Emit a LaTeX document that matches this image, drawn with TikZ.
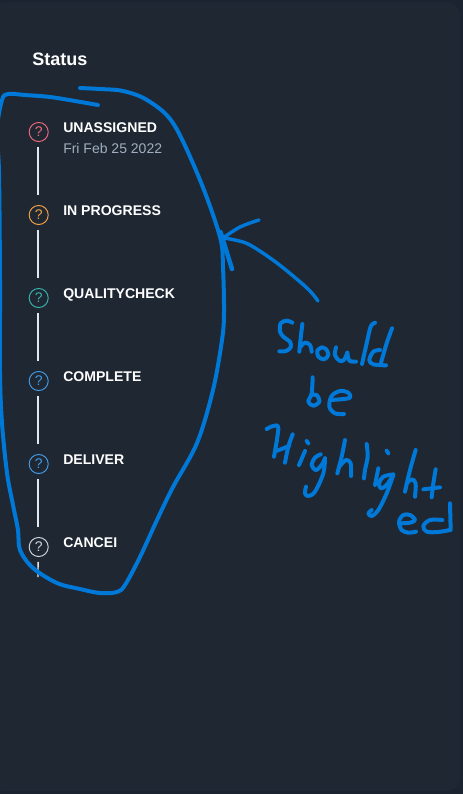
\documentclass[tikz,border=0pt]{standalone}
\usepackage{fontspec}
\setmainfont{Liberation Sans}
\definecolor{outerbg}{HTML}{1B2330}
\definecolor{panelbg}{HTML}{1F2733}
\definecolor{inkblue}{HTML}{0078D7}
\definecolor{linecol}{HTML}{E2E8F0}
\definecolor{subcol}{HTML}{A0AEC0}
\definecolor{cpink}{HTML}{E8697A}
\definecolor{corange}{HTML}{F0A044}
\definecolor{cteal}{HTML}{38B2AC}
\definecolor{cblue}{HTML}{4299E1}
\definecolor{cgray}{HTML}{CBD5E0}
\tikzset{
  ink/.style={draw=inkblue,line width=3pt,line cap=round,line join=round},
  inkthin/.style={draw=inkblue,line width=2.6pt,line cap=round,line join=round},
  stat/.style={circle,draw=#1,text=#1,line width=0.75pt,minimum size=14.3pt,inner sep=0pt,font=\fontsize{10.5pt}{10.5pt}\selectfont},
  lab/.style={anchor=base west,inner sep=0pt,text=white,font=\fontsize{10.55pt}{12pt}\selectfont\bfseries},
  sublab/.style={anchor=base west,inner sep=0pt,text=subcol,font=\fontsize{10.5pt}{12pt}\selectfont},
  tl/.style={draw=linecol,line width=1.1pt,shorten <=3.7pt,shorten >=7.5pt},
}
\newcommand{\sk}[2][ink]{\draw[#1] plot[smooth,tension=0.55] coordinates {#2};}
\begin{document}
\begin{tikzpicture}[x=0.75pt,y=-0.75pt]
\useasboundingbox (0,0) rectangle (463,794);
\fill[outerbg] (0,0) rectangle (463,794);
\fill[panelbg,rounded corners=10pt] (-8,2) rectangle (460,791);

\node[anchor=base west,inner sep=0pt,text=white,font=\fontsize{13.5pt}{15pt}\selectfont\bfseries] (title) at (32,65.5) {Status};

\node[stat=cpink] (s1) at (38.7,132) {?};
\node[stat=corange] (s2) at (38.7,215) {?};
\node[stat=cteal] (s3) at (38.7,298) {?};
\node[stat=cblue] (s4) at (38.7,381) {?};
\node[stat=cblue] (s5) at (38.7,464) {?};
\node[stat=cgray] (s6) at (38.7,547) {?};
\coordinate (tailend) at (38,577);

\draw[tl] ([xshift=-0.5pt]s1.south) -- ([xshift=-0.5pt]s2.north);
\draw[tl] ([xshift=-0.5pt]s2.south) -- ([xshift=-0.5pt]s3.north);
\draw[tl] ([xshift=-0.5pt]s3.south) -- ([xshift=-0.5pt]s4.north);
\draw[tl] ([xshift=-0.5pt]s4.south) -- ([xshift=-0.5pt]s5.north);
\draw[tl] ([xshift=-0.5pt]s5.south) -- ([xshift=-0.5pt]s6.north);
\draw[tl,shorten >=0pt] ([xshift=-0.5pt]s6.south) -- (tailend);

\node[lab] (l1) at (63,132) {UNASSIGNED};
\node[sublab] (d1) at (63,153) {Fri Feb 25 2022};
\node[lab] (l2) at (63,215) {IN PROGRESS};
\node[lab] (l3) at (63,298) {QUALITYCHECK};
\node[lab] (l4) at (63,381) {COMPLETE};
\node[lab] (l5) at (63,464) {DELIVER};
\node[lab] (l6) at (63,547) {CANCEI};

% big hand-drawn loop
\sk{(98,105)(75,101)(50,97)(25,95)(8,94)(2,100)(-3,130)(-1,173)(0,280)(0,373)(2,423)(7,473)(13,505)(18,530)(20,550)(33,568)(57,583)(80,589)(100,593)(117,592)(125,585)(140,557)(157,520)(173,487)(197,443)(213,390)(222,340)(224,313)(223,267)(220,237)(200,180)(173,123)(147,100)(123,91)(100,89)(80,88)}

% arrow
\sk[inkthin]{(318,301)(307,288)(277,263)(250,245)(235,240)(223,238)}
\sk[inkthin]{(259,220)(240,227)(223,238)}
\draw[ink,line width=3.4pt] (220.5,232) -- (232,269);

% handwriting: Should / be
\begin{scope}[shift={(260,310)},x=0.25pt,y=-0.25pt]
\sk{(97,38)(80,32)(62,40)(60,65)(72,82)(90,95)(92,112)(78,123)(58,124)}
\sk{(127,42)(122,85)(118,125)}
\sk{(122,110)(135,98)(150,105)(155,125)}
\sk{(185,112)(172,122)(175,140)(192,148)(205,135)(198,117)(185,112)}
\sk{(228,112)(225,135)(238,152)(252,150)(262,128)}
\sk{(262,128)(268,152)(288,155)}
\sk{(345,38)(332,50)(320,100)(306,162)}
\sk{(360,120)(340,125)(328,150)(340,163)(378,166)}
\sk{(396,55)(380,100)(362,162)}
\sk{(158,202)(155,250)(145,275)(160,287)(178,275)(170,255)(155,255)}
\sk{(210,270)(240,268)(270,263)(265,248)(240,243)(215,258)(208,290)(225,310)(252,312)}
\end{scope}

% handwriting: High
\begin{scope}[shift={(260,415)},x=0.25pt,y=-0.25pt]
\sk{(20,42)(40,33)(55,40)(42,125)}
\sk{(48,108)(70,100)(88,92)}
\sk{(98,58)(85,95)(75,143)}
\sk{(135,108)(117,150)}
\sk{(140,78)(145,85)}
\sk{(182,118)(165,128)(155,150)(168,165)(185,150)(195,130)}
\sk{(195,130)(190,175)(165,230)(145,243)(135,235)(138,215)}
\sk{(255,75)(245,125)(232,175)}
\sk{(238,155)(258,135)(272,145)(273,183)}
\end{scope}

% handwriting: light / ed
\begin{scope}[shift={(355,440)},x=0.25pt,y=-0.25pt]
\sk{(35,12)(38,50)(30,90)(27,115)}
\sk{(70,85)(60,135)}
\sk{(95,32)(100,40)}
\sk{(115,103)(85,110)(72,130)(78,145)(95,135)(115,105)}
\sk{(115,105)(95,160)(70,210)(50,228)(40,220)(50,210)}
\sk{(182,30)(165,90)(150,155)}
\sk{(155,130)(170,118)(182,130)(180,170)}
\sk{(242,88)(235,130)(230,172)}
\sk{(205,148)(255,142)}
\sk{(135,250)(165,248)(180,240)(165,225)(145,225)(132,245)(140,270)(160,278)(183,275)}
\sk{(262,240)(225,240)(205,258)(215,275)(250,276)(285,270)}
\sk{(285,190)(287,270)}
\end{scope}
\end{tikzpicture}
\end{document}
